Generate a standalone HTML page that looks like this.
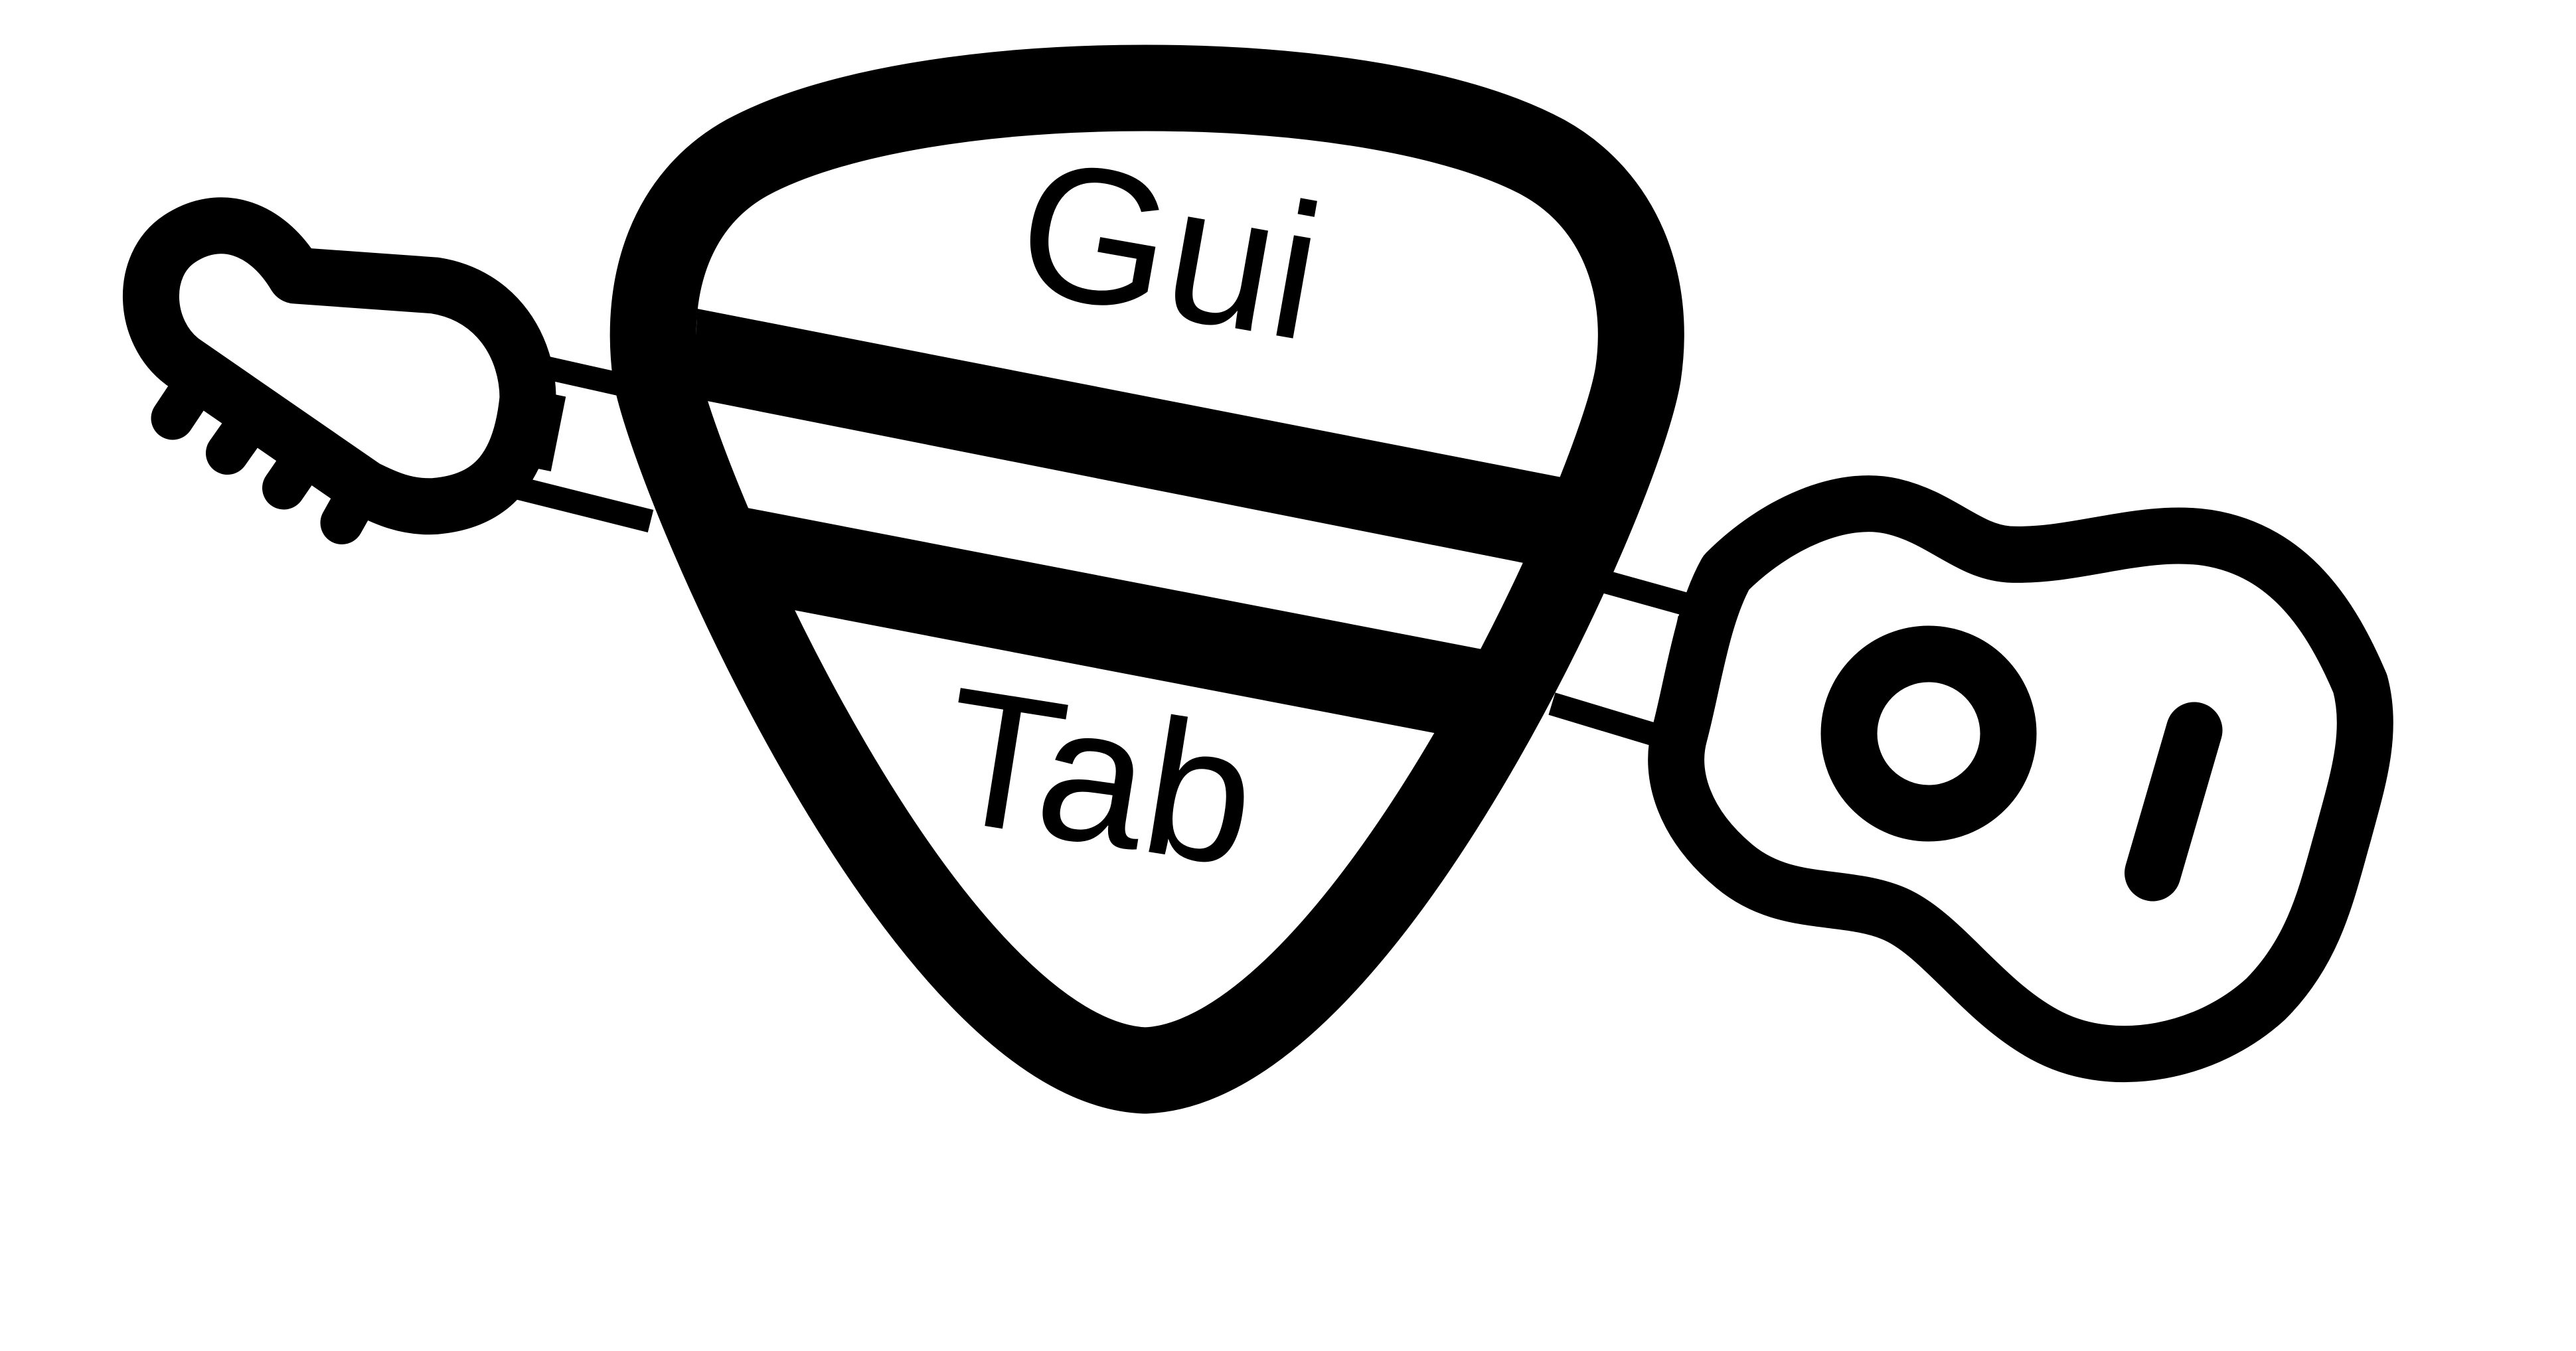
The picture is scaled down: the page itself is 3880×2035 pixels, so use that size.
<!DOCTYPE html>
<html><head><meta charset="utf-8"><style>
html,body{margin:0;padding:0;background:#fff;}
svg{display:block;}
</style></head><body>
<svg width="3880" height="2035" viewBox="0 0 1552 814" xmlns="http://www.w3.org/2000/svg">
<rect width="1552" height="814" fill="#fff"/>
<g fill="none" stroke="#000" stroke-linecap="round" stroke-linejoin="round">
  <path stroke-width="34" d="M178,166 L262,172 C300,178 318,210 318,240 C314,280 298,302 262,305 C245,306 232,300 220,294 L110,218 C86,200 84,160 108,144 C132,128 160,136 178,166 Z"/>
  <line stroke-width="26" x1="104" y1="252" x2="116" y2="234"/>
  <line stroke-width="26" x1="137" y1="273" x2="149" y2="256"/>
  <line stroke-width="26" x1="171" y1="294" x2="182" y2="278"/>
  <line stroke-width="26" x1="206" y1="315" x2="215" y2="299"/>
</g>
<g stroke="#000" stroke-linecap="butt" fill="none">
  <line stroke-width="14" x1="322" y1="220" x2="380" y2="233"/>
  <line stroke-width="14" x1="312" y1="294" x2="392" y2="314"/>
  <line stroke-width="10" x1="336" y1="238" x2="327" y2="283"/>
</g>
<g stroke="#000" fill="none">
  <line stroke-width="14" x1="958" y1="348" x2="1030" y2="368"/>
  <line stroke-width="14" x1="935" y1="424" x2="1008" y2="446"/>
  <line stroke-width="10" x1="1016" y1="372" x2="1006" y2="420"/>
</g>
<path fill="#fff" d="M690,53 C590,53 500,68 450,95 C405,120 388,170 395,225 C410,300 560,640 690,645 C820,640 975,300 987,225 C995,170 975,120 930,95 C880,68 790,53 690,53 Z"/>
<path fill="none" stroke="#000" stroke-width="52" stroke-linejoin="round" d="M690,53 C590,53 500,68 450,95 C405,120 388,170 395,225 C410,300 560,640 690,645 C820,640 975,300 987,225 C995,170 975,120 930,95 C880,68 790,53 690,53 Z"/>
<polygon fill="#000" points="420,186 948,289 922,340 418,240"/>
<polygon fill="#000" points="440,304 897,392 866,442 470,366"/>
<g fill="none" stroke="#000" stroke-linecap="round" stroke-linejoin="round">
  <path stroke-width="34" d="M1040,345 C1070,315 1110,298 1140,305 C1170,312 1185,332 1210,334 C1250,336 1290,318 1330,324 C1380,332 1405,372 1422,412 C1430,442 1420,472 1412,502 C1402,537 1395,572 1365,602 C1330,634 1275,645 1235,625 C1195,605 1170,562 1140,550 C1110,538 1075,547 1045,522 C1015,497 1005,467 1012,442 C1020,412 1025,372 1040,345 Z"/>
  <circle cx="1162" cy="442" r="48" stroke-width="34"/>
  <line stroke-width="34" x1="1297" y1="526" x2="1322" y2="440"/>
</g>
<text x="703" y="190" text-anchor="middle" transform="rotate(10 703 160)" font-family="'Liberation Sans', sans-serif" font-size="116" fill="#000">Gui</text>
<text x="662" y="508" text-anchor="middle" transform="rotate(9 662 470)" font-family="'Liberation Sans', sans-serif" font-size="116" fill="#000">Tab</text>
</svg>
</body></html>
